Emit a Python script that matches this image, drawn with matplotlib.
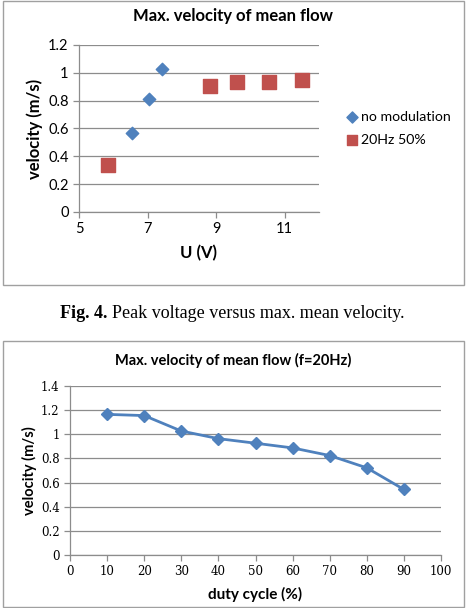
import numpy as np
import matplotlib
matplotlib.use('Agg')
import matplotlib.pyplot as plt
from matplotlib.patches import Rectangle

# top chart: peak voltage vs max. mean velocity
u_nomod = [6.55, 7.03, 7.43]
v_nomod = [0.565, 0.81, 1.03]
u_20hz = [5.84, 8.82, 9.62, 10.54, 11.5]
v_20hz = [0.335, 0.905, 0.935, 0.935, 0.945]

# bottom chart: duty cycle vs max. mean velocity
duty = [10, 20, 30, 40, 50, 60, 70, 80, 90]
v_duty = [1.165, 1.155, 1.027, 0.964, 0.926, 0.887, 0.824, 0.722, 0.543]

blue = '#4F81BD'
red = '#C0504D'
grid_c = '#8C8C8C'
sans = 'Lato'
W, H = 468, 608

fig = plt.figure(figsize=(W / 100, H / 100), dpi=100)

# panel borders
for (x0, y0, x1, y1) in [(3, 1, 464, 285), (3, 341, 464, 607)]:
    fig.add_artist(Rectangle((x0 / W, 1 - y1 / H), (x1 - x0) / W, (y1 - y0) / H,
                             transform=fig.transFigure, fill=False,
                             ec='#A0A0A0', lw=1.0))


def style(ax):
    for s in ['top', 'right']:
        ax.spines[s].set_visible(False)
    for s in ['left', 'bottom']:
        ax.spines[s].set_color(grid_c)
        ax.spines[s].set_linewidth(0.9)
    ax.yaxis.grid(True, color=grid_c, lw=0.9)
    ax.set_axisbelow(True)
    ax.tick_params(direction='out', length=4, color=grid_c, width=0.9)


ax1 = fig.add_axes([79 / W, 1 - 212 / H, 240 / W, 167 / H])
style(ax1)
ax1.scatter(u_nomod, v_nomod, marker='D', s=40, color=blue, label='no modulation', zorder=3)
ax1.scatter(u_20hz, v_20hz, marker='s', s=95, color=red, label='20Hz 50%', zorder=3)
ax1.set_xlim(5, 12)
ax1.set_ylim(0, 1.2)
ax1.set_xticks([5, 7, 9, 11])
ax1.set_yticks(np.arange(0, 1.21, 0.2))
ax1.set_yticklabels(['0', '0.2', '0.4', '0.6', '0.8', '1', '1.2'])
for lab in ax1.get_xticklabels() + ax1.get_yticklabels():
    lab.set_fontfamily(sans)
    lab.set_fontsize(10.5)
ax1.set_xlabel('U (V)', family=sans, fontsize=12, fontweight='bold', labelpad=6)
ax1.set_ylabel('velocity (m/s)', family=sans, fontsize=12, fontweight='bold', labelpad=4)
fig.text(233 / W, 1 - 16 / H, 'Max. velocity of mean flow', family=sans,
         fontsize=12, fontweight='bold', ha='center', va='center')
leg = ax1.legend(loc='center left', bbox_to_anchor=(1.05, 0.5), frameon=False,
                 prop={'family': sans, 'size': 10.2}, handletextpad=0.0,
                 handlelength=1.2, labelspacing=0.8)
leg.legend_handles[0].set_sizes([32])
leg.legend_handles[1].set_sizes([60])

# caption
fig.text(60 / W, 1 - 313 / H, 'Fig. 4.', family='Liberation Serif', fontsize=13,
         fontweight='bold', ha='left', va='center')
fig.text(112 / W, 1 - 313 / H, 'Peak voltage versus max. mean velocity.',
         family='Liberation Serif', fontsize=13, ha='left', va='center')

ax2 = fig.add_axes([70 / W, 1 - 555 / H, 371 / W, 169 / H])
style(ax2)
ax2.plot(duty, v_duty, color=blue, lw=2, marker='D', ms=6, zorder=3)
ax2.set_xlim(0, 100)
ax2.set_ylim(0, 1.4)
ax2.set_xticks(np.arange(0, 101, 10))
ax2.set_yticks(np.arange(0, 1.41, 0.2))
ax2.set_yticklabels(['0', '0.2', '0.4', '0.6', '0.8', '1', '1.2', '1.4'])
for lab in ax2.get_xticklabels() + ax2.get_yticklabels():
    lab.set_fontfamily('DejaVu Serif')
    lab.set_fontsize(8.5)
ax2.set_xlabel('duty cycle (%)', family=sans, fontsize=11, fontweight='bold', labelpad=6)
ax2.set_ylabel('velocity (m/s)', family=sans, fontsize=10.5, fontweight='bold', labelpad=3)
fig.text(233 / W, 1 - 360 / H, 'Max. velocity of mean flow (f=20Hz)', family=sans,
         fontsize=10.5, fontweight='bold', ha='center', va='center')

fig.savefig('out.png', dpi=100)
